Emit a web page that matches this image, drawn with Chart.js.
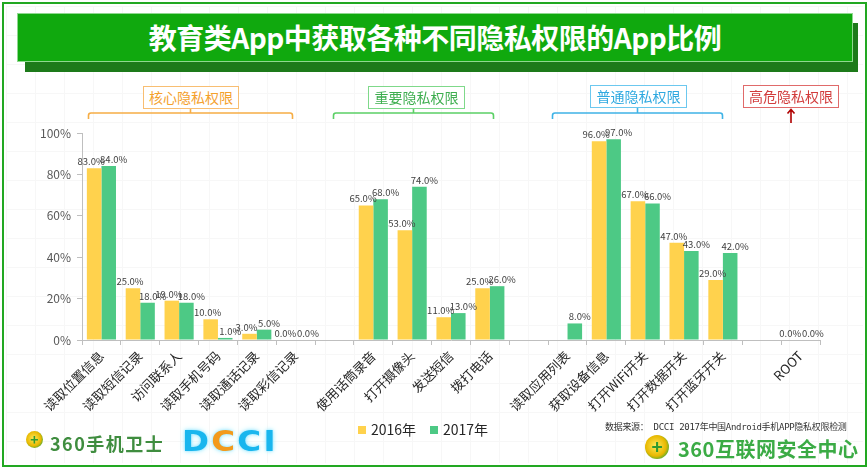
<!DOCTYPE html>
<html>
<head>
<meta charset="utf-8">
<script src="https://cdn.jsdelivr.net/npm/chart.js@4"></script>
<style>
  html, body { margin: 0; padding: 0; background: #fff; }
  body { width: 868px; height: 469px; position: relative; overflow: hidden; font-family: "Noto Sans CJK SC", "Noto Sans", sans-serif; }
  .frame { position: absolute; left: 2px; top: 2px; width: 861px; height: 461px; border: 2px solid #22a822; }
  .bg-grid { position: absolute; left: 6px; top: 6px; width: 857px; height: 457px;
    background-image: linear-gradient(#f7f7f7 1px, transparent 1px), linear-gradient(90deg, #f7f7f7 1px, transparent 1px);
    background-size: 29px 29px; }
  .banner-shadow { position: absolute; left: 25px; top: 23px; width: 833px; height: 49px; background: #1d7a1a; }
  .banner { position: absolute; left: 17px; top: 13px; width: 836px; height: 49px; background: #10a90e;
    border: 1px solid #8fd88f; box-sizing: border-box; color: #fff; font-weight: bold; font-size: 28px;
    line-height: 47px; text-align: center; letter-spacing: -0.5px; }
  canvas#chart { position: absolute; left: 0; top: 0; }
  .tag { position: absolute; height: 23px; box-sizing: border-box; border: 1px solid; font-size: 14px;
    line-height: 21px; text-align: center; background: #fff; }
  svg.br { position: absolute; left: 0; top: 0; }
  .legend { position: absolute; top: 419px; font-size: 14px; color: #262626; }
  .legend span.sw { display: inline-block; width: 8px; height: 8px; margin-right: 5px; vertical-align: 1px; }
  .source { position: absolute; left: 605px; top: 420px; font-size: 9px; color: #333; font-family: "DejaVu Sans Mono", "Noto Sans CJK SC", monospace; white-space: nowrap; letter-spacing: -0.3px; }
  .logo360 { position: absolute; white-space: nowrap; }
  .icon { position: absolute; border-radius: 50%; background: radial-gradient(circle at 45% 45%, #ffe95a, #e8b800 55%, #5eac2c 75%, #d7ecc0 100%); }
  .icon::after { content: "+"; position: absolute; left: 0; right: 0; top: 50%; transform: translateY(-54%);
    text-align: center; color: #2f9a2f; font-weight: bold; }
  .dcci { position: absolute; left: 182px; top: 426px; font-size: 29px; font-weight: bold; letter-spacing: 2px;
    color: #19b6ee; text-shadow: 0 0 3px #7fe0ff, 0 0 6px #bff2ff; font-family: "DejaVu Sans", sans-serif; line-height: 30px; transform: scaleX(1.12); transform-origin: left top; }
  .dcci b { color: #f39a1c; }
</style>
</head>
<body>
<div class="bg-grid"></div>
<div class="frame"></div>
<div class="banner-shadow"></div>
<div class="banner">教育类App中获取各种不同隐私权限的App比例</div>

<canvas id="chart" width="868" height="469"></canvas>

<!-- group tags and braces -->
<svg class="br" width="868" height="130">
  <g fill="none" stroke-width="1.6">
    <path d="M88.5,119 L88.5,115.5 Q88.5,113 91,113 L290,113 Q292.5,113 292.5,115.5 L292.5,119 M190.5,113 L190.5,108" stroke="#f6ad45"/>
    <path d="M333.5,119 L333.5,115.5 Q333.5,113 336,113 L491,113 Q493.5,113 493.5,115.5 L493.5,119 M413.5,113 L413.5,108" stroke="#5bd065"/>
    <path d="M552.5,119 L552.5,115.5 Q552.5,113 555,113 L720,113 Q722.5,113 722.5,115.5 L722.5,119 M637.5,113 L637.5,108" stroke="#3fb3e6"/>
    <path d="M791,123 L791,110 M787.5,113.5 L791,109.5 L794.5,113.5" stroke="#b00000"/>
  </g>
</svg>
<div class="tag" style="left:143px;top:86px;width:96px;color:#f4a12d;border-color:#f8be72;">核心隐私权限</div>
<div class="tag" style="left:368px;top:86px;width:97px;color:#3fae50;border-color:#7fd98a;">重要隐私权限</div>
<div class="tag" style="left:590px;top:85px;width:97px;color:#2fa9e0;border-color:#6cc8ef;">普通隐私权限</div>
<div class="tag" style="left:743px;top:85px;width:96px;color:#d23c3c;border-color:#e06a6a;">高危隐私权限</div>

<!-- legend -->
<div class="legend" style="left:358px;"><span class="sw" style="background:#ffd24d"></span>2016年</div>
<div class="legend" style="left:430px;"><span class="sw" style="background:#4dc985"></span>2017年</div>

<div class="source">数据来源： DCCI 2017年中国Android手机APP隐私权限检测</div>

<!-- logos -->
<div class="icon" style="left:26px;top:431px;width:17px;height:17px;font-size:14px;"></div>
<div class="logo360" style="left:50px;top:430px;font-size:18px;letter-spacing:1.5px;color:#3f8d3f;font-weight:600;">360手机卫士</div>
<div class="dcci">D<b>C</b>CI</div>
<div class="icon" style="left:645px;top:435px;width:24px;height:24px;font-size:19px;"></div>
<div class="logo360" style="left:678px;top:434px;font-size:20px;color:#3bab45;font-weight:bold;letter-spacing:0.5px;">360互联网安全中心</div>

<script>
// categories on the x axis ("" = gap between groups)
const categories = [
  "读取位置信息", "读取短信记录", "访问联系人", "读取手机号码", "读取通话记录", "读取彩信记录", "",
  "使用话筒录音", "打开摄像头", "发送短信", "拨打电话", "",
  "读取应用列表", "获取设备信息", "打开WiFi开关", "打开数据开关", "打开蓝牙开关", "",
  "ROOT"
];
const seriesNames = ["2016年", "2017年"];
const values2016 = [83, 25, 19, 10, 3, 0, null, 65, 53, 11, 25, null, null, 96, 67, 47, 29, null, 0];
const values2017 = [84, 18, 18, 1, 5, 0, null, 68, 74, 13, 26, null, 8, 97, 66, 43, 42, null, 0];
const yTicks = [0, 20, 40, 60, 80, 100];

const CJK = '"Noto Sans CJK SC", "Noto Sans", sans-serif';

// value labels drawn above each bar
const valueLabels = {
  id: "valueLabels",
  afterDatasetsDraw(chart) {
    const { ctx } = chart;
    ctx.save();
    ctx.font = "9.5px " + CJK;
    ctx.fillStyle = "#404040";
    ctx.textAlign = "center";
    ctx.textBaseline = "bottom";
    chart.data.datasets.forEach((ds, di) => {
      const meta = chart.getDatasetMeta(di);
      meta.data.forEach((bar, i) => {
        const v = ds.data[i];
        if (v === null || v === undefined) return;
        ctx.fillText(v.toFixed(1) + "%", bar.x + (di === 1 ? 5 : -3), bar.y - 2);
      });
    });
    ctx.restore();
  }
};

new Chart(document.getElementById("chart"), {
  type: "bar",
  data: {
    labels: categories,
    datasets: [
      { label: seriesNames[0], data: values2016, backgroundColor: "#ffd24d" },
      { label: seriesNames[1], data: values2017, backgroundColor: "#4dc985" },
    ],
  },
  options: {
    responsive: false,
    animation: false,
    layout: { padding: { left: 0, right: 48, top: 133, bottom: 0 } },
    datasets: { bar: { categoryPercentage: 0.75, barPercentage: 1.0 } },
    plugins: {
      legend: { display: false },
      tooltip: { enabled: false },
    },
    scales: {
      x: {
        grid: { drawOnChartArea: false, color: "#bfbfbf", tickLength: 5, offset: true },
        border: { color: "#bfbfbf" },
        ticks: {
          autoSkip: false, minRotation: 45, maxRotation: 45, padding: 3,
          color: "#262626", font: { family: CJK, size: 13 },
        },
        afterFit(scale) { scale.height = 129; },
      },
      y: {
        min: 0, max: 100,
        afterBuildTicks(scale) { scale.ticks = yTicks.map(v => ({ value: v })); },
        grid: { drawOnChartArea: false, color: "#bfbfbf", tickLength: 5 },
        border: { color: "#bfbfbf" },
        ticks: {
          padding: 6, color: "#595959", font: { family: CJK, size: 12 },
          callback: (v) => v + "%",
        },
        afterFit(scale) { scale.width = 82; },
      },
    },
  },
  plugins: [valueLabels],
});
</script>
</body>
</html>
